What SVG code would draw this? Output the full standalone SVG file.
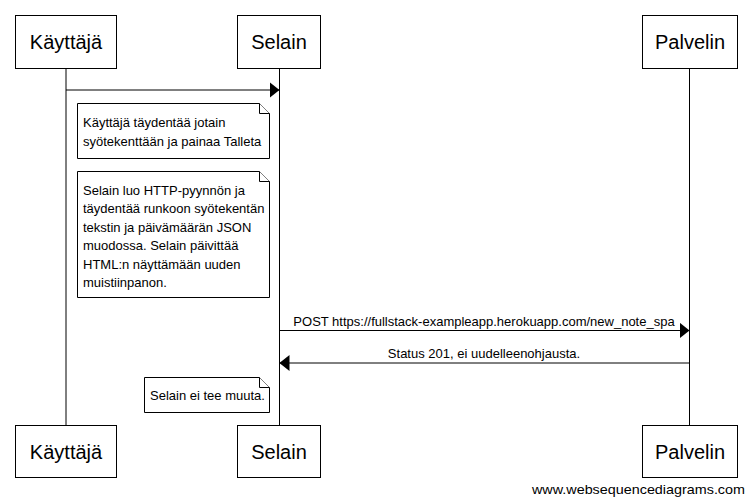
<svg xmlns="http://www.w3.org/2000/svg" width="752" height="504" viewBox="0 0 752 504">
<defs>
<style>
.box{fill:#fff;stroke:#000;stroke-width:1}
.life{stroke:#000;stroke-width:1}
.actor{font-family:"Liberation Sans",Arial,sans-serif;font-size:20px;fill:#000;text-anchor:middle}
.t{font-family:"Liberation Sans",Arial,sans-serif;font-size:13px;fill:#000}
.msg{stroke:#000;stroke-width:1;fill:none}
.note{fill:#fff;stroke:#000;stroke-width:1}
</style>
<marker id="ah" viewBox="0 0 10 16" refX="10" refY="8" markerWidth="10" markerHeight="16" markerUnits="userSpaceOnUse" orient="auto">
<path d="M0,0 L10,8 L0,16 Z" fill="#000"/>
</marker>
</defs>
<rect width="752" height="504" fill="#fff"/>
<g id="lifelines">
<line class="life" x1="66" y1="68" x2="66" y2="425"/>
<line class="life" x1="279.5" y1="68" x2="279.5" y2="425"/>
<line class="life" x1="689.5" y1="68" x2="689.5" y2="425"/>
</g>
<g id="kayttaja">
<rect class="box" x="15.5" y="15.5" width="101" height="53"/>
<text class="actor" x="66" y="49">Käyttäjä</text>
<rect class="box" x="15.5" y="425.5" width="101" height="52"/>
<text class="actor" x="66" y="459">Käyttäjä</text>
</g>
<g id="selain">
<rect class="box" x="237.5" y="15.5" width="83" height="53"/>
<text class="actor" x="279" y="49">Selain</text>
<rect class="box" x="237.5" y="425.5" width="83" height="52"/>
<text class="actor" x="279" y="459">Selain</text>
</g>
<g id="palvelin">
<rect class="box" x="642.5" y="15.5" width="95" height="53"/>
<text class="actor" x="690" y="49">Palvelin</text>
<rect class="box" x="642.5" y="425.5" width="95" height="52"/>
<text class="actor" x="690" y="459">Palvelin</text>
</g>
<g id="connectors">
<line class="msg" x1="66" y1="90" x2="279.5" y2="90" marker-end="url(#ah)"/>
<line class="msg" x1="279.5" y1="330.5" x2="689.5" y2="330.5" marker-end="url(#ah)"/>
<text class="t" x="484" y="326" text-anchor="middle">POST https://fullstack-exampleapp.herokuapp.com/new_note_spa</text>
<line class="msg" x1="689.5" y1="363" x2="279.5" y2="363" marker-end="url(#ah)"/>
<text class="t" x="484" y="358" text-anchor="middle">Status 201, ei uudelleenohjausta.</text>
</g>
<g id="note1">
<path class="note" d="M77.5,103.5 H259.5 L269.5,113.5 V158.5 H77.5 Z"/>
<path class="note" d="M259.5,103.5 V113.5 H269.5" fill="none"/>
<text class="t" x="83" y="127">Käyttäjä täydentää jotain</text>
<text class="t" x="83" y="145.5">syötekenttään ja painaa Talleta</text>
</g>
<g id="note2">
<path class="note" d="M77.5,171.5 H259.5 L269.5,181.5 V297.5 H77.5 Z"/>
<path class="note" d="M259.5,171.5 V181.5 H269.5" fill="none"/>
<text class="t" x="83" y="194.5">Selain luo HTTP-pyynnön ja</text>
<text class="t" x="83" y="213">täydentää runkoon syötekentän</text>
<text class="t" x="83" y="231.5">tekstin ja päivämäärän JSON</text>
<text class="t" x="83" y="250">muodossa. Selain päivittää</text>
<text class="t" x="83" y="268.5">HTML:n näyttämään uuden</text>
<text class="t" x="83" y="287">muistiinpanon.</text>
</g>
<g id="note3">
<path class="note" d="M144.5,377.5 H259.5 L269.5,387.5 V412.5 H144.5 Z"/>
<path class="note" d="M259.5,377.5 V387.5 H269.5" fill="none"/>
<text class="t" x="150" y="400">Selain ei tee muuta.</text>
</g>
<text class="t" x="745" y="494" text-anchor="end" textLength="213" lengthAdjust="spacingAndGlyphs">www.websequencediagrams.com</text>
</svg>
